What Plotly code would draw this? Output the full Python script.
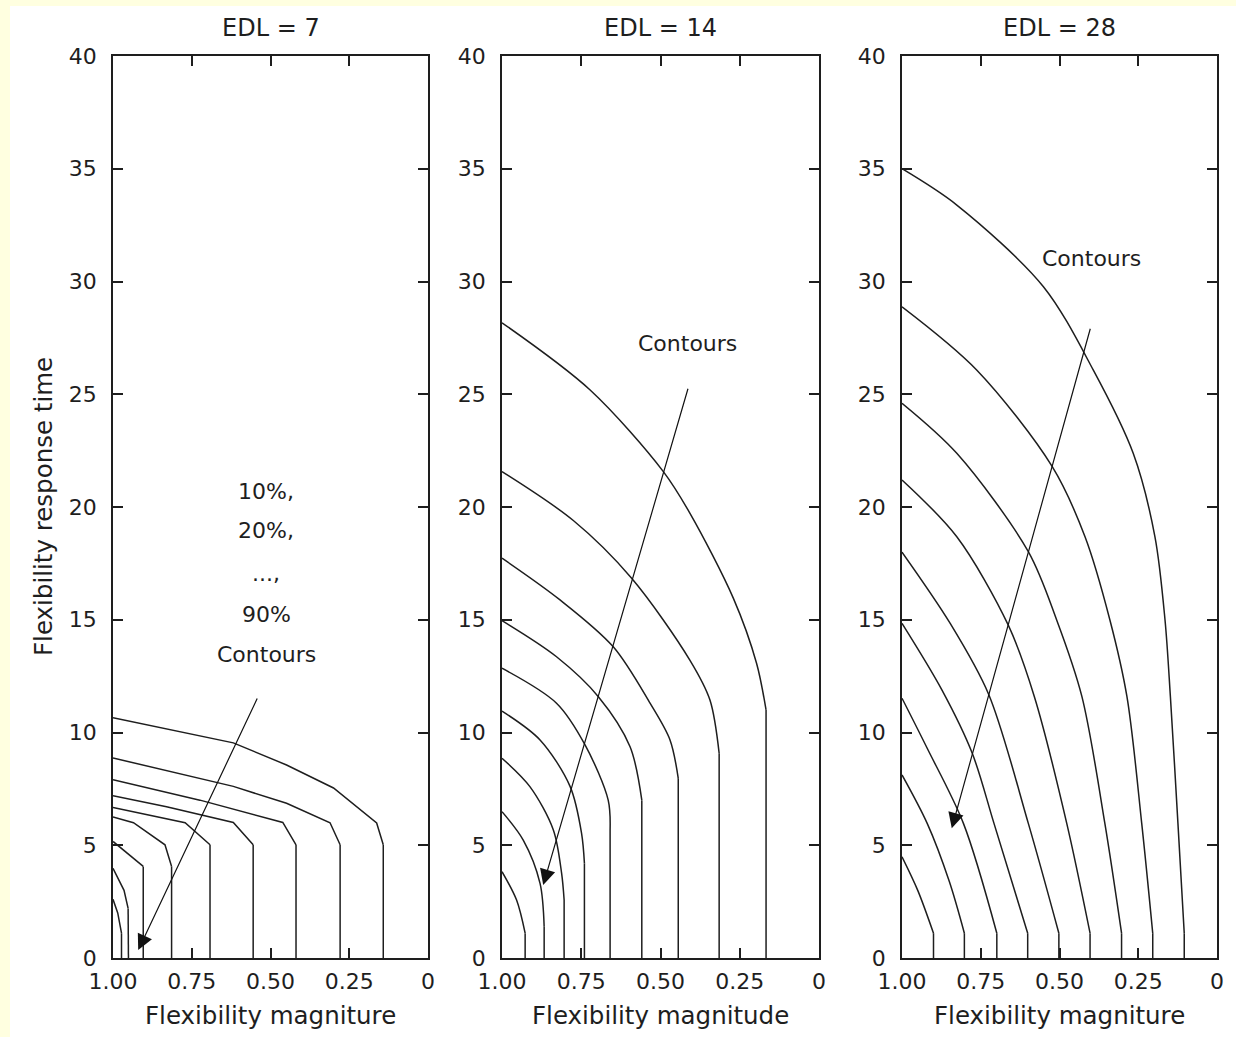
import plotly.graph_objects as go

# ---------------- data ----------------
PANEL_TITLES = ["EDL = 7", "EDL = 14", "EDL = 28"]
X_TITLES = ["Flexibility magniture", "Flexibility magnitude", "Flexibility magniture"]
Y_TITLE = "Flexibility response time"

X_TICKVALS = [1.0, 0.75, 0.5, 0.25, 0.0]
X_TICKTEXT = ["1.00", "0.75", "0.50", "0.25", "0"]
Y_TICKVALS = [0, 5, 10, 15, 20, 25, 30, 35, 40]

# EDL = 7 contours (10% ... 90%), polyline shaped
EDL7_X = [
    [1.0, 0.985, 0.973, 0.973],
    [1.0, 0.965, 0.952, 0.951],
    [1.0, 0.904, 0.904],
    [1.0, 0.935, 0.835, 0.814, 0.814],
    [1.0, 0.771, 0.692, 0.692],
    [1.0, 0.83, 0.618, 0.555, 0.555],
    [1.0, 0.724, 0.461, 0.419, 0.419],
    [1.0, 0.618, 0.449, 0.311, 0.279, 0.279],
    [1.0, 0.618, 0.449, 0.30, 0.163, 0.142, 0.142],
]
EDL7_Y = [
    [2.6, 2.0, 1.1, 0],
    [3.98, 3.0, 2.2, 0],
    [5.17, 4.06, 0],
    [6.25, 6.0, 5.02, 4.06, 0],
    [6.68, 6.0, 5.02, 0],
    [7.2, 6.71, 6.01, 5.02, 0],
    [7.91, 7.0, 6.01, 5.02, 0],
    [8.87, 7.61, 6.86, 6.0, 5.02, 0],
    [10.65, 9.54, 8.56, 7.54, 5.99, 5.02, 0],
]

# EDL = 14 contours
EDL14_X = [
    [1.0, 0.954, 0.927, 0.927],
    [1.0, 0.933, 0.88, 0.867, 0.867],
    [1.0, 0.912, 0.838, 0.812, 0.804, 0.804],
    [1.0, 0.88, 0.785, 0.749, 0.740, 0.740],
    [1.0, 0.828, 0.738, 0.665, 0.659, 0.659],
    [1.0, 0.828, 0.696, 0.596, 0.559, 0.559],
    [1.0, 0.817, 0.649, 0.533, 0.470, 0.444, 0.444],
    [1.0, 0.775, 0.591, 0.407, 0.344, 0.315, 0.315],
    [1.0, 0.722, 0.491, 0.407, 0.270, 0.197, 0.167, 0.167],
]
EDL14_Y = [
    [3.83, 2.57, 1.1, 0],
    [6.49, 5.23, 3.31, 1.39, 0],
    [8.86, 7.6, 5.68, 3.76, 2.57, 0],
    [10.95, 9.67, 7.6, 5.53, 4.2, 0],
    [12.85, 11.3, 9.45, 7.0, 5.68, 0],
    [14.96, 13.36, 11.59, 9.37, 7.0, 0],
    [17.73, 15.88, 13.8, 11.3, 9.67, 7.97, 0],
    [21.57, 19.4, 16.84, 13.2, 11.44, 9.08, 0],
    [28.17, 25.19, 21.57, 19.72, 15.95, 13.07, 11.0, 0],
]

# EDL = 28 contours
EDL28_X = [
    [1.0, 0.95, 0.90, 0.90],
    [1.0, 0.92, 0.85, 0.802, 0.802],
    [1.0, 0.92, 0.805, 0.699, 0.699],
    [1.0, 0.873, 0.777, 0.708, 0.601, 0.601],
    [1.0, 0.847, 0.725, 0.599, 0.502, 0.502],
    [1.0, 0.826, 0.663, 0.580, 0.477, 0.403, 0.403],
    [1.0, 0.826, 0.599, 0.509, 0.429, 0.356, 0.303, 0.303],
    [1.0, 0.763, 0.523, 0.419, 0.340, 0.286, 0.239, 0.204, 0.204],
    [1.0, 0.826, 0.551, 0.393, 0.266, 0.197, 0.165, 0.148, 0.124, 0.104, 0.104],
]
EDL28_Y = [
    [4.49, 3.0, 1.1, 0],
    [8.12, 5.97, 3.4, 1.1, 0],
    [11.52, 9.3, 5.97, 1.1, 0],
    [14.84, 11.88, 9.08, 5.97, 1.1, 0],
    [18.0, 14.84, 11.7, 5.97, 1.1, 0],
    [21.2, 18.68, 14.77, 11.6, 5.97, 1.1, 0],
    [24.6, 22.38, 18.02, 14.99, 11.6, 5.97, 1.1, 0],
    [28.88, 26.08, 21.79, 18.68, 14.99, 11.6, 5.97, 1.1, 0],
    [35.0, 33.39, 29.77, 26.08, 22.38, 18.68, 14.99, 11.6, 5.97, 1.1, 0],
]

# arrows: (tail x, tail y, head x, head y)
ARROWS = [
    (0.54, 11.57, 0.92, 0.35),
    (0.412, 25.31, 0.870, 3.24),
    (0.401, 27.97, 0.842, 5.75),
]
# text labels: (panel index, x, y, text)
LABELS = [
    (0, 0.514, 20.7, "10%,"),
    (0, 0.514, 18.94, "20%,"),
    (0, 0.514, 17.07, "...,"),
    (0, 0.514, 15.25, "90%"),
    (0, 0.514, 13.48, "Contours"),
    (1, 0.416, 27.27, "Contours"),
    (2, 0.40, 31.04, "Contours"),
]

# ---------------- layout geometry ----------------
W, H = 1236, 1037
FONT = "DejaVu Sans"
INK = "#1e1e1e"
X_DOMAINS = [[113 / W, 428 / W], [502 / W, 819 / W], [902 / W, 1217 / W]]
Y_DOMAIN = [1 - 958 / H, 1 - 56 / H]

fig = go.Figure()

PANELS = [(EDL7_X, EDL7_Y, "linear"), (EDL14_X, EDL14_Y, "spline"), (EDL28_X, EDL28_Y, "spline")]
for i, (xs, ys, shape) in enumerate(PANELS):
    xa = "x" if i == 0 else f"x{i+1}"
    ya = "y" if i == 0 else f"y{i+1}"
    for cx, cy in zip(xs, ys):
        fig.add_trace(go.Scatter(x=cx[:-1], y=cy[:-1], mode="lines", xaxis=xa, yaxis=ya,
                                 line=dict(color=INK, width=1.5, shape=shape, smoothing=0.9),
                                 showlegend=False, hoverinfo="skip"))
        fig.add_trace(go.Scatter(x=cx[-2:], y=cy[-2:], mode="lines", xaxis=xa, yaxis=ya,
                                 line=dict(color=INK, width=1.5),
                                 showlegend=False, hoverinfo="skip"))

annotations = []
for i, (tx, ty, hx, hy) in enumerate(ARROWS):
    xa = "x" if i == 0 else f"x{i+1}"
    ya = "y" if i == 0 else f"y{i+1}"
    annotations.append(dict(x=hx, y=hy, ax=tx, ay=ty, xref=xa, yref=ya, axref=xa, ayref=ya,
                            showarrow=True, arrowhead=2, arrowsize=2.6, arrowwidth=1.2,
                            arrowcolor="#111", text=""))
for (p, x, y, t) in LABELS:
    xa = "x" if p == 0 else f"x{p+1}"
    ya = "y" if p == 0 else f"y{p+1}"
    annotations.append(dict(x=x, y=y, xref=xa, yref=ya, text=t, showarrow=False,
                            xanchor="center", yanchor="middle",
                            font=dict(family=FONT, size=22, color=INK)))
for i in range(3):
    cx = (X_DOMAINS[i][0] + X_DOMAINS[i][1]) / 2
    annotations.append(dict(x=cx, y=1 - 28 / H, xref="paper", yref="paper", text=PANEL_TITLES[i],
                            xanchor="center", yanchor="middle",
                            showarrow=False, font=dict(family=FONT, size=24, color=INK)))
    annotations.append(dict(x=cx, y=1 - 1015 / H, xref="paper", yref="paper", text=X_TITLES[i],
                            xanchor="center", yanchor="middle",
                            showarrow=False, font=dict(family=FONT, size=24.5, color=INK)))
annotations.append(dict(x=43 / W, y=1 - 507 / H, xref="paper", yref="paper", text=Y_TITLE,
                        xanchor="center", yanchor="middle",
                        textangle=-90, showarrow=False, font=dict(family=FONT, size=24.5, color=INK)))

layout = dict(
    width=W, height=H,
    margin=dict(l=0, r=0, t=0, b=0, autoexpand=False),
    paper_bgcolor="#FFFFE0",
    plot_bgcolor="white",
    showlegend=False,
    annotations=annotations,
    shapes=[dict(type="rect", xref="paper", yref="paper", x0=10 / W, x1=1, y0=0, y1=1 - 6 / H,
                 fillcolor="white", line=dict(width=0), layer="below")],
)
for i in range(3):
    xk = "xaxis" if i == 0 else f"xaxis{i+1}"
    yk = "yaxis" if i == 0 else f"yaxis{i+1}"
    layout[xk] = dict(domain=X_DOMAINS[i], range=[1, 0], anchor="y" if i == 0 else f"y{i+1}",
                      tickvals=X_TICKVALS, ticktext=X_TICKTEXT, ticks="inside", ticklen=10,
                      tickwidth=1.5, tickcolor=INK, showline=True, linecolor=INK, linewidth=1.5,
                      mirror="ticks", showgrid=False, zeroline=False, ticklabelstandoff=3,
                      automargin=False, tickfont=dict(family=FONT, size=22, color=INK))
    layout[yk] = dict(domain=Y_DOMAIN, range=[0, 40], anchor="x" if i == 0 else f"x{i+1}",
                      tickvals=Y_TICKVALS, ticks="inside", ticklen=10,
                      tickwidth=1.5, tickcolor=INK, showline=True, linecolor=INK, linewidth=1.5,
                      mirror="ticks", showgrid=False, zeroline=False, ticklabelstandoff=10,
                      automargin=False, tickfont=dict(family=FONT, size=22, color=INK))
fig.update_layout(**layout)
fig.write_html(
    "out.html",
    config={"displayModeBar": False},
    post_script="document.body.style.margin='0';document.body.style.overflow='hidden';",
)
